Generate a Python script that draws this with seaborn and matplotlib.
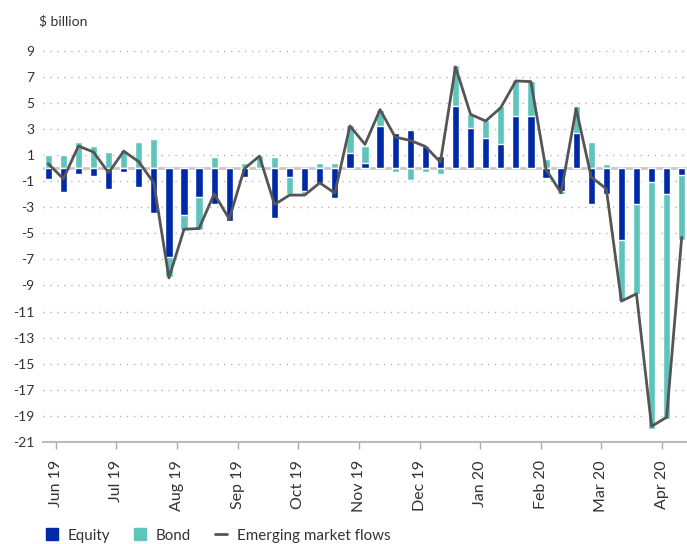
import pandas as pd
import seaborn as sns
import matplotlib.pyplot as plt
from matplotlib.patches import Patch
from matplotlib.lines import Line2D

# weekly flows, $ billion
equity = [-0.87, -1.8, -0.49, -0.64, -1.64, -0.33, -1.48, -3.48, -6.78, -3.56,
          -2.25, -2.76, -4.07, -0.69, 0.0, -3.84, -0.72, -1.72, -1.15, -2.3,
          1.13, 0.36, 3.2, 2.66, 2.89, 1.72, 0.9, 4.74, 3.05, 2.28,
          1.82, 3.97, 3.97, -0.79, -1.72, 2.66, -2.79, -1.95, -5.48, -2.79,
          -1.1, -2.02, -0.56]
bond = [0.97, 0.97, 1.97, 1.69, 1.2, 1.36, 1.97, 2.2, -1.59, -1.2,
        -2.51, 0.82, 0.0, 0.36, 0.97, 0.82, -1.28, -0.28, 0.36, 0.36,
        2.15, 1.3, 1.23, -0.33, -0.95, -0.33, -0.49, 3.15, 1.07, 1.38,
        2.97, 2.76, 2.68, 0.67, -0.3, 2.13, 1.97, 0.28, -4.72, -6.9,
        -18.9, -17.22, -4.92]
em_flows = [0.33, -0.82, 1.69, 1.23, -0.36, 1.3, 0.49, -1.15, -8.42, -4.69,
            -4.63, -1.97, -3.9, -0.05, 0.92, -2.79, -2.07, -2.07, -1.13, -1.92,
            3.23, 1.82, 4.48, 2.38, 2.12, 1.66, 0.46, 7.76, 4.12, 3.61,
            4.63, 6.68, 6.63, -0.1, -1.9, 4.56, -0.69, -1.59, -10.2, -9.64,
            -19.8, -19.1, -5.3]
month_labels = ["Jun 19", "Jul 19", "Aug 19", "Sep 19", "Oct 19", "Nov 19",
                "Dec 19", "Jan 20", "Feb 20", "Mar 20", "Apr 20"]
y_ticks = list(range(-21, 10, 2))

df = pd.DataFrame({"week": range(len(equity)), "equity": equity,
                   "bond": bond, "flows": em_flows})
# bond stacks on equity when they share a sign, otherwise starts at zero
same_sign = (df.equity * df.bond) > 0
df["bond_outer"] = df.bond + df.equity.where(same_sign, 0)

EQ_COL = "#0029a8"
BD_COL = "#5ec4bc"
LN_COL = "#555555"
TXT = "#333333"

sns.set_style("white")
plt.rcParams["font.family"] = ["Lato", "DejaVu Sans"]

fig = plt.figure(figsize=(6.87, 5.44), dpi=100)
ax = fig.add_axes([43 / 687, 102 / 544, 644 / 687, 402 / 544])

for v in y_ticks[1:]:
    ax.axhline(v, color="#b4b4b4", lw=1, ls=(0, (1, 4)), zorder=0)
ax.axhline(0, color="#c8c8c8", lw=2, zorder=0.5)

sns.barplot(data=df, x="week", y="bond_outer", color=BD_COL, width=0.48,
            saturation=1, ax=ax, zorder=2)
sns.barplot(data=df, x="week", y="equity", color=EQ_COL, width=0.48,
            saturation=1, ax=ax, zorder=3)
sns.lineplot(data=df, x="week", y="flows", color=LN_COL, lw=2, ax=ax, zorder=4)

ax.set_xlim(-0.35, 42.35)
ax.set_ylim(-21, 9.82)
ax.set_yticks(y_ticks)
ax.set_yticklabels([str(v) for v in y_ticks])
ax.set_xticks([0.5 + 4.02 * i for i in range(len(month_labels))])
ax.set_xticklabels(month_labels, rotation=90)
ax.set_xlabel("")
ax.set_ylabel("")

for s in ["top", "right", "left"]:
    ax.spines[s].set_visible(False)
ax.spines["bottom"].set_color("#bbbbbb")
ax.spines["bottom"].set_linewidth(1.5)
ax.tick_params(axis="y", length=0, pad=6, labelsize=10, labelcolor=TXT)
ax.tick_params(axis="x", length=5, width=1, color="#aaaaaa", direction="out",
               pad=8, labelsize=11.5, labelcolor=TXT, bottom=True)

fig.text(39 / 687, 1 - 21 / 544, "$ billion", fontsize=10, color=TXT,
         va="center", ha="left")

handles = [Patch(color=EQ_COL, label="Equity"),
           Patch(color=BD_COL, label="Bond"),
           Line2D([], [], color=LN_COL, lw=2, label="Emerging market flows")]
fig.legend(handles=handles, loc="center left", ncol=3, frameon=False,
           bbox_to_anchor=(46 / 687, 1 - 535.5 / 544), borderaxespad=0,
           borderpad=0, handlelength=0.8, handleheight=0.8,
           handletextpad=0.65, columnspacing=1.55, fontsize=10.9,
           labelcolor=TXT)

fig.savefig("out.png", dpi=100)
